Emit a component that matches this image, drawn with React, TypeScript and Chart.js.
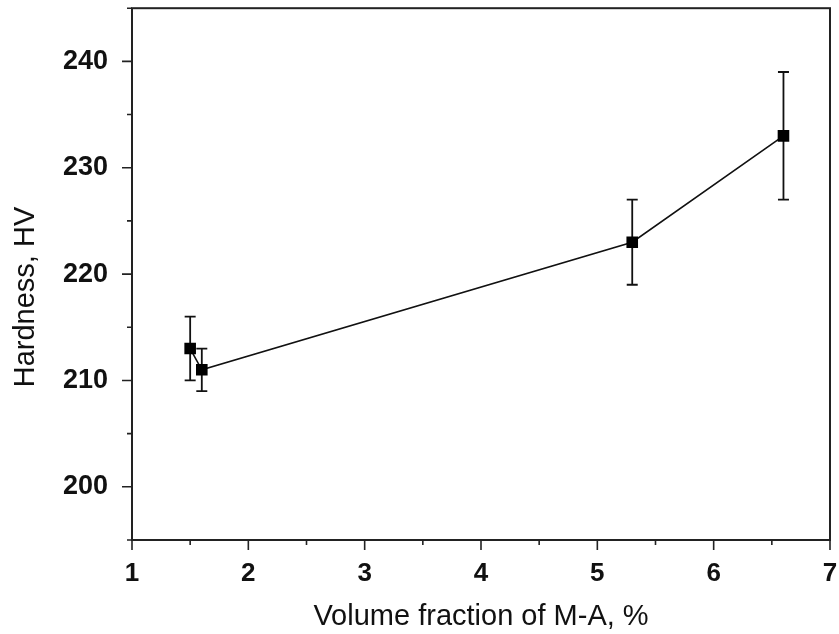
import React, { useEffect, useRef } from "react";
import { Chart, registerables } from "chart.js";

Chart.register(...registerables);

const volumeFraction = [1.5, 1.6, 5.3, 6.6];
const hardness = [213, 211, 223, 233];
const hardnessError = [3, 2, 4, 6];

const xTitle = "Volume fraction of M-A, %";
const yTitle = "Hardness, HV";

const FONT = "'Liberation Sans', Arial, Helvetica, sans-serif";

const framePlugin = {
  id: "framePlugin",
  beforeDatasetsDraw(chart: any) {
    const { ctx, scales } = chart;
    const xs = scales.x;
    const ys = scales.y;
    ctx.save();
    ctx.strokeStyle = "#111";
    ctx.lineWidth = 1.8;
    for (let i = 0; i < volumeFraction.length; i++) {
      const px = xs.getPixelForValue(volumeFraction[i]);
      const pt = ys.getPixelForValue(hardness[i] + hardnessError[i]);
      const pb = ys.getPixelForValue(hardness[i] - hardnessError[i]);
      ctx.beginPath();
      ctx.moveTo(px, pt);
      ctx.lineTo(px, pb);
      ctx.moveTo(px - 5.5, pt);
      ctx.lineTo(px + 5.5, pt);
      ctx.moveTo(px - 5.5, pb);
      ctx.lineTo(px + 5.5, pb);
      ctx.stroke();
    }
    ctx.restore();
  },
  afterDraw(chart: any) {
    const { ctx, chartArea, scales } = chart;
    const { left, right, top, bottom } = chartArea;
    const xs = scales.x;
    const ys = scales.y;
    ctx.save();
    ctx.strokeStyle = "#222";
    ctx.lineWidth = 2;
    ctx.strokeRect(left, top, right - left, bottom - top);
    ctx.lineWidth = 1.6;
    ctx.beginPath();
    for (let v = xs.min; v <= xs.max + 1e-9; v += 0.5) {
      const px = xs.getPixelForValue(v);
      const len = Math.abs(v - Math.round(v)) < 1e-6 ? 10 : 5;
      ctx.moveTo(px, bottom);
      ctx.lineTo(px, bottom + len);
    }
    for (let v = ys.min; v <= ys.max + 1e-9; v += 5) {
      const py = ys.getPixelForValue(v);
      const len = v % 10 === 0 ? 10 : 5;
      ctx.moveTo(left, py);
      ctx.lineTo(left - len, py);
    }
    ctx.stroke();
    ctx.fillStyle = "#111";
    ctx.font = `29px ${FONT}`;
    ctx.textAlign = "center";
    ctx.textBaseline = "middle";
    ctx.translate(26, 297);
    ctx.rotate(-Math.PI / 2);
    ctx.fillText(yTitle, 0, 0);
    ctx.restore();
  },
};

const zeroPad = (s: any) => {
  s.paddingTop = 0;
  s.paddingBottom = 0;
  s.paddingLeft = 0;
  s.paddingRight = 0;
};

export default function App() {
  const ref = useRef<HTMLCanvasElement>(null);
  useEffect(() => {
    document.body.style.margin = "0";
    const canvas = ref.current;
    if (!canvas) return;
    const chart = new Chart(canvas, {
      type: "line",
      data: {
        datasets: [
          {
            data: volumeFraction.map((x, i) => ({ x, y: hardness[i] })),
            borderColor: "#111",
            borderWidth: 1.6,
            backgroundColor: "#000",
            pointStyle: "rect",
            pointRadius: 8.2,
            pointBorderWidth: 0,
            pointBackgroundColor: "#000",
            tension: 0,
            fill: false,
          },
        ],
      },
      options: {
        animation: false,
        responsive: false,
        devicePixelRatio: 1,
        layout: { padding: { left: 0, right: 9, top: 6, bottom: 0 } },
        plugins: { legend: { display: false }, tooltip: { enabled: false } },
        scales: {
          x: {
            type: "linear",
            min: 1,
            max: 7,
            afterFit: (s: any) => {
              s.height = 94;
              zeroPad(s);
            },
            grid: { display: false, drawTicks: false },
            border: { display: false },
            ticks: {
              stepSize: 1,
              padding: 18,
              color: "#111",
              font: { family: FONT, size: 26, weight: "bold" },
            },
            title: {
              display: true,
              text: xTitle,
              color: "#111",
              padding: { top: 0, bottom: 0 },
              font: { family: FONT, size: 29 },
            },
          },
          y: {
            type: "linear",
            min: 195,
            max: 245,
            afterFit: (s: any) => {
              s.width = 132;
              zeroPad(s);
            },
            grid: { display: false, drawTicks: false },
            border: { display: false },
            ticks: {
              stepSize: 5,
              padding: 24,
              color: "#111",
              font: { family: FONT, size: 27, weight: "bold" },
              callback: (v: any) => (Number(v) % 10 === 0 ? String(v) : ""),
            },
          },
        },
      },
      plugins: [framePlugin],
    });
    return () => chart.destroy();
  }, []);
  return (
    <div style={{ width: 839, height: 634 }}>
      <canvas ref={ref} width={839} height={634} style={{ display: "block" }} />
    </div>
  );
}
